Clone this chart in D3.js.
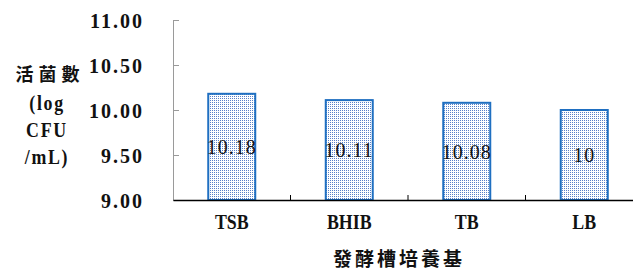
<!DOCTYPE html>
<html lang="zh-Hant">
<head>
<meta charset="UTF-8">
<title>活菌數</title>
<script src="https://d3js.org/d3.v7.min.js"></script>
<style>
  body { margin: 0; background: #fff; }
  svg { display: block; }
  .num { font-family: "Liberation Serif", "DejaVu Serif", serif; fill: #111; }
  .cjk { font-family: "Noto Sans CJK TC", "Noto Sans CJK SC", sans-serif; fill: #111; }
</style>
</head>
<body>
<svg width="633" height="272"></svg>
<script>
// data
var media = ["TSB", "BHIB", "TB", "LB"];
var counts = [10.18, 10.11, 10.08, 10];
var yTicks = [9.00, 9.50, 10.00, 10.50, 11.00];
var yTitle = ["活菌數", "(log", "CFU", "/mL)"];
var xTitle = "發酵槽培養基";

var svg = d3.select("svg");

// scales: plot spans from axis at x=173 past the right edge
var x = d3.scaleBand().domain(media).range([173, 643]).padding(0);
var y = d3.scaleLinear().domain([9, 11]).range([200, 20]);

// dotted fill for the bars
var defs = svg.append("defs");
var pat = defs.append("pattern")
    .attr("id", "dots")
    .attr("width", 2).attr("height", 2)
    .attr("patternUnits", "userSpaceOnUse");
pat.append("rect").attr("width", 2).attr("height", 2).attr("fill", "#ffffff");
pat.append("rect").attr("x", 0).attr("y", 0).attr("width", 1).attr("height", 1).attr("fill", "#5a80c8");

// y axis (gray line, ticks pointing inward)
var yAxis = svg.append("g")
    .attr("transform", "translate(173,0)")
    .call(d3.axisRight(y).tickValues(yTicks).tickSize(6).tickFormat(d3.format(".2f")));
yAxis.select(".domain").attr("stroke", "#9a9a9a");
yAxis.selectAll(".tick line").attr("stroke", "#9a9a9a");
yAxis.selectAll(".tick text")
    .attr("class", "num")
    .attr("x", -29)
    .attr("dy", "0.36em")
    .attr("text-anchor", "end")
    .style("font-size", "20px")
    .style("letter-spacing", "2px")
    .style("font-weight", "bold");

// bars
var bw = x.bandwidth() * 0.4;
svg.selectAll("rect.bar")
    .data(counts)
    .enter()
    .append("rect")
    .attr("class", "bar")
    .attr("x", function(d, i) { return x(media[i]) + (x.bandwidth() - bw) / 2; })
    .attr("y", function(d) { return y(d); })
    .attr("width", bw)
    .attr("height", function(d) { return y(9) - y(d); })
    .attr("fill", "url(#dots)")
    .attr("stroke", "#1f6fc1")
    .attr("stroke-width", 2);

// value labels in the middle of the bars
svg.selectAll("text.val")
    .data(counts)
    .enter()
    .append("text")
    .attr("class", "num val")
    .attr("x", function(d, i) { return x(media[i]) + x.bandwidth() / 2; })
    .attr("y", function(d) { return (y(d) + y(9)) / 2; })
    .attr("dy", "0.36em")
    .attr("text-anchor", "middle")
    .style("font-size", "20px")
    .style("letter-spacing", "1px")
    .text(function(d) { return String(d); });

// x axis (black line, boundary ticks pointing up)
var xAxis = svg.append("g")
    .attr("transform", "translate(0,200)")
    .call(d3.axisBottom(x).tickSize(0).tickPadding(14));
xAxis.select(".domain").attr("stroke", "#000").attr("stroke-width", 1.5);
xAxis.selectAll(".tick text")
    .attr("class", "num")
    .attr("transform", "scale(0.85,1)")
    .style("font-size", "21px")
    .style("font-weight", "bold");

svg.append("g").selectAll("line")
    .data(media.slice(1))
    .enter()
    .append("line")
    .attr("x1", function(d) { return x(d); })
    .attr("x2", function(d) { return x(d); })
    .attr("y1", 200).attr("y2", 195)
    .attr("stroke", "#000");

// y title
svg.append("text")
    .attr("class", "cjk")
    .attr("x", 50).attr("y", 81)
    .attr("text-anchor", "middle")
    .style("font-size", "18px")
    .style("font-weight", "bold")
    .style("letter-spacing", "5px")
    .text(yTitle[0]);
svg.selectAll("text.yt")
    .data(yTitle.slice(1))
    .enter()
    .append("text")
    .attr("class", "num yt")
    .attr("transform", function(d, i) { return "translate(47," + (110 + i * 27) + ") scale(0.85,1)"; })
    .attr("text-anchor", "middle")
    .style("font-size", "21px")
    .style("font-weight", "bold")
    .style("letter-spacing", "2px")
    .text(function(d) { return d; });

// x title
svg.append("text")
    .attr("class", "cjk")
    .attr("x", 399).attr("y", 266)
    .attr("text-anchor", "middle")
    .style("font-size", "19px")
    .style("font-weight", "bold")
    .style("letter-spacing", "3px")
    .text(xTitle);
</script>
</body>
</html>
